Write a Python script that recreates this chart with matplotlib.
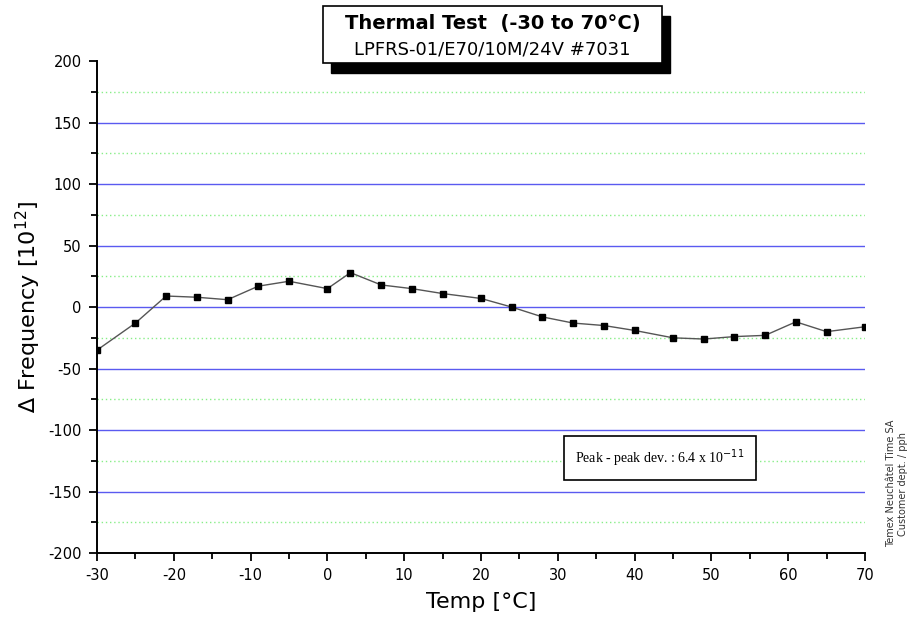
import matplotlib
matplotlib.use("Agg")
import matplotlib.pyplot as plt
from matplotlib.ticker import MultipleLocator
from matplotlib.patches import Rectangle

plt.rcParams["axes.unicode_minus"] = False

# temperature steps and measured frequency deviation
temps = [-30, -25, -21, -17, -13, -9, -5, 0, 3, 7, 11, 15, 20, 24,
         28, 32, 36, 40, 45, 49, 53, 57, 61, 65, 70]
dfreq = [-35, -13, 9, 8, 6, 17, 21, 15, 28, 18, 15, 11, 7, 0,
         -8, -13, -15, -19, -25, -26, -24, -23, -12, -20, -16]

xticks = [-30, -20, -10, 0, 10, 20, 30, 40, 50, 60, 70]
yticks = [-200, -150, -100, -50, 0, 50, 100, 150, 200]

fig = plt.figure(figsize=(9.17, 6.29), dpi=100)
ax = fig.add_axes([0.1058, 0.1208, 0.8375, 0.782])

# grid lines
for v in range(-175, 200, 50):
    ax.axhline(v, color="#88ee88", lw=1.0, ls=(0, (1, 2)), zorder=1)
for v in range(-150, 200, 50):
    ax.axhline(v, color="#5a5af0", lw=1.0, zorder=1)

ax.plot(temps, dfreq, color="#555555", lw=1, marker="s", ms=5,
        mfc="black", mec="black", zorder=3)

ax.set_xlim(-30, 70)
ax.set_ylim(-200, 200)
ax.set_xticks(xticks)
ax.set_yticks(yticks)
ax.xaxis.set_minor_locator(MultipleLocator(5))
ax.yaxis.set_minor_locator(MultipleLocator(25))
ax.tick_params(which="major", direction="out", length=6, width=1.3, labelsize=10.5, pad=5)
ax.tick_params(which="minor", direction="out", length=4, width=1.3)
for s in ["top", "right"]:
    ax.spines[s].set_visible(False)
for s in ["left", "bottom"]:
    ax.spines[s].set_linewidth(1.4)

ax.set_xlabel("Temp [\u00b0C]", fontsize=16, labelpad=6)
ax.set_ylabel("\u2206 Frequency [10$^{12}$]", fontsize=16, labelpad=4)

# peak-peak box
ax.text(43.3, -123, "Peak - peak dev. : 6.4 x 10$^{-11}$", family="Liberation Serif",
        fontsize=10, ha="center", va="center", zorder=5,
        bbox=dict(boxstyle="square,pad=0.8", fc="white", ec="black", lw=1.2))

# title box with shadow
fig.patches.append(Rectangle((0.361, 0.884), 0.37, 0.09, transform=fig.transFigure,
                             fc="black", ec="black", zorder=1))
fig.patches.append(Rectangle((0.352, 0.9), 0.37, 0.09, transform=fig.transFigure,
                             fc="white", ec="black", lw=1.2, zorder=2))
fig.text(0.537, 0.963, "Thermal Test  (-30 to 70\u00b0C)", fontsize=14, fontweight="bold",
         ha="center", va="center", zorder=3)
fig.text(0.537, 0.922, "LPFRS-01/E70/10M/24V #7031", fontsize=13,
         ha="center", va="center", zorder=3)

fig.text(0.978, 0.13, "Temex Neuch\u00e2tel Time SA\nCustomer dept. / pph", fontsize=7,
         rotation=90, ha="center", va="bottom", color="#333333", linespacing=1.3)

fig.savefig("out.png", dpi=100, facecolor="white")
